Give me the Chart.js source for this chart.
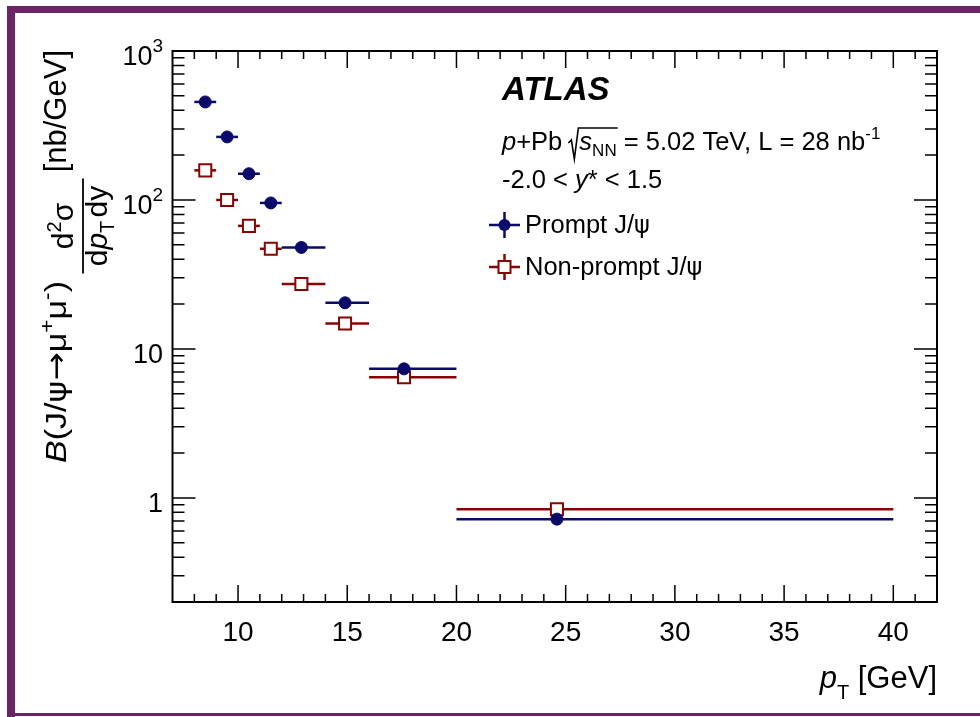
<!DOCTYPE html>
<html>
<head>
<meta charset="utf-8">
<script src="https://cdn.jsdelivr.net/npm/chart.js@4.4.0/dist/chart.umd.min.js"></script>
<style>
  html, body { margin: 0; padding: 0; background: #fff; }
  #wrap { position: relative; width: 980px; height: 717px; }
</style>
</head>
<body>
<div id="wrap"><canvas id="chart"></canvas></div>
<script>
// pT bins [GeV] and measured cross sections [nb/GeV]
const binLow = [8, 9, 10, 11, 12, 14, 16, 20];
const binHigh = [9, 10, 11, 12, 14, 16, 20, 40];
const binCentre = [8.5, 9.5, 10.5, 11.5, 12.9, 14.9, 17.6, 24.6];
const promptValues = [455, 265, 150, 95.5, 48, 20.4, 7.35, 0.72];
const nonPromptValues = [158, 100, 67, 47, 27.3, 14.8, 6.45, 0.84];
const xTickLabels = [10, 15, 20, 25, 30, 35, 40];
// decade labels: base text + exponent (empty = none)
const yTickLabels = { 1: ['1', ''], 10: ['10', ''], 100: ['10', '2'], 1000: ['10', '3'] };

const FONT = '"Liberation Sans", Arial, Helvetica, sans-serif';
const GREEK = '"DejaVu Sans", ' + FONT;
const PROMPT_COLOR = '#0a0a6a';
const NONPROMPT_COLOR = '#860404';
const FRAME_COLOR = '#6c2466';

function toPoints(values) {
    return values.map((v, i) => ({ x: binCentre[i], y: v }));
}

// draw a run of text pieces, each with its own size/style/offset
function richText(ctx, x, y, parts) {
    for (const p of parts) {
        ctx.font = (p.style || '') + ' ' + p.size + 'px ' + (p.family || FONT);
        ctx.fillText(p.t, x, y + (p.dy || 0));
        x += ctx.measureText(p.t).width;
    }
    return x;
}

function richWidth(ctx, parts) {
    let w = 0;
    for (const p of parts) {
        ctx.font = (p.style || '') + ' ' + p.size + 'px ' + (p.family || FONT);
        w += ctx.measureText(p.t).width;
    }
    return w;
}

function isDecade(v) {
    const l = Math.log10(v);
    return Math.abs(l - Math.round(l)) < 1e-6;
}

function isWholeSignificand(v) {
    const s = v / Math.pow(10, Math.floor(Math.log10(v) + 1e-9));
    return Math.abs(s - Math.round(s)) < 1e-6;
}

const errorBars = {
    id: 'errorBars',
    beforeDatasetsDraw(chart) {
        const ctx = chart.ctx;
        const xs = chart.scales.x, ys = chart.scales.y;
        ctx.save();
        ctx.lineWidth = 2.5;
        chart.data.datasets.forEach((ds) => {
            ctx.strokeStyle = ds.borderColor;
            ds.data.forEach((pt, i) => {
                const y = ys.getPixelForValue(pt.y);
                ctx.beginPath();
                ctx.moveTo(xs.getPixelForValue(binLow[i]), y);
                ctx.lineTo(xs.getPixelForValue(binHigh[i]), y);
                ctx.stroke();
            });
        });
        ctx.restore();
    }
};

const decorations = {
    id: 'decorations',
    afterDraw(chart) {
        const ctx = chart.ctx;
        const a = chart.chartArea;
        const xs = chart.scales.x, ys = chart.scales.y;
        ctx.save();

        // frame + inward ticks on all four sides
        ctx.strokeStyle = '#000';
        ctx.lineWidth = 2;
        ctx.strokeRect(a.left, a.top, a.right - a.left, a.bottom - a.top);
        ctx.lineWidth = 1.5;
        ctx.beginPath();
        xs.ticks.forEach((t) => {
            const px = xs.getPixelForValue(t.value);
            if (px <= a.left + 1 || px >= a.right - 1) return;
            const len = t.value % 5 === 0 ? 17 : 8;
            ctx.moveTo(px, a.bottom); ctx.lineTo(px, a.bottom - len);
            ctx.moveTo(px, a.top); ctx.lineTo(px, a.top + len);
        });
        ys.ticks.forEach((t) => {
            if (!isWholeSignificand(t.value)) return;
            const py = ys.getPixelForValue(t.value);
            if (py <= a.top + 1 || py >= a.bottom - 1) return;
            const len = isDecade(t.value) ? 23 : 12;
            ctx.moveTo(a.left, py); ctx.lineTo(a.left + len, py);
            ctx.moveTo(a.right, py); ctx.lineTo(a.right - len, py);
        });
        ctx.stroke();

        ctx.fillStyle = '#000';
        ctx.textAlign = 'left';
        ctx.textBaseline = 'alphabetic';

        // y tick labels with real exponents
        ys.ticks.forEach((t) => {
            const lab = yTickLabels[Math.round(t.value * 1000) / 1000];
            if (!lab || !isDecade(t.value)) return;
            const parts = [{ t: lab[0], size: 27 }];
            if (lab[1]) parts.push({ t: lab[1], size: 19, dy: -13 });
            const py = ys.getPixelForValue(t.value);
            richText(ctx, a.left - 9.5 - richWidth(ctx, parts), py + 14, parts);
        });

        // ATLAS label and run info
        ctx.font = 'italic bold 33px ' + FONT;
        ctx.fillText('ATLAS', 502, 100);

        let x = richText(ctx, 502, 150, [
            { t: 'p', size: 25.5, style: 'italic' },
            { t: '+Pb ', size: 25.5 }
        ]);
        const rootStart = x - 1;
        x = richText(ctx, rootStart + 11, 150, [
            { t: 's', size: 25.5, style: 'italic' },
            { t: 'NN', size: 17, dy: 6 }
        ]);
        ctx.lineWidth = 1.6;
        ctx.beginPath();
        ctx.moveTo(rootStart, 143);
        ctx.lineTo(rootStart + 3, 140);
        ctx.lineTo(rootStart + 6, 159);
        ctx.lineTo(rootStart + 10, 128);
        ctx.lineTo(x + 1, 128);
        ctx.stroke();
        richText(ctx, x, 150, [
            { t: ' = 5.02 TeV, L = 28 nb', size: 25.5 },
            { t: '-1', size: 17, dy: -11 }
        ]);
        richText(ctx, 502, 188, [
            { t: '-2.0 < ', size: 25.5 },
            { t: 'y', size: 25.5, style: 'italic' },
            { t: '* < 1.5', size: 25.5 }
        ]);

        // legend
        const legend = [
            { label: 'Prompt J/', cy: 225, base: 233, ds: 0 },
            { label: 'Non-prompt J/', cy: 267, base: 275, ds: 1 }
        ];
        legend.forEach((e) => {
            const ds = chart.data.datasets[e.ds];
            ctx.strokeStyle = ds.borderColor;
            ctx.lineWidth = 2.5;
            ctx.beginPath();
            ctx.moveTo(489, e.cy); ctx.lineTo(520, e.cy);
            ctx.moveTo(504.5, e.cy - 13); ctx.lineTo(504.5, e.cy + 13);
            ctx.stroke();
            if (e.ds === 0) {
                ctx.fillStyle = ds.backgroundColor;
                ctx.beginPath();
                ctx.arc(504.5, e.cy, 6, 0, Math.PI * 2);
                ctx.fill();
            } else {
                ctx.fillStyle = '#fff';
                ctx.lineWidth = 2;
                ctx.fillRect(498.5, e.cy - 6, 12, 12);
                ctx.strokeRect(498.5, e.cy - 6, 12, 12);
            }
            ctx.fillStyle = '#000';
            richText(ctx, 525, e.base, [
                { t: e.label, size: 25.5 },
                { t: '\u03C8', size: 24, family: GREEK }
            ]);
        });

        // x axis title, right aligned to the frame
        const xTitle = [
            { t: 'p', size: 31, style: 'italic' },
            { t: 'T', size: 20, dy: 11 },
            { t: ' [GeV]', size: 31 }
        ];
        richText(ctx, a.right - richWidth(ctx, xTitle), 688, xTitle);

        // y axis title, rotated; u runs upward along the page
        ctx.save();
        ctx.rotate(-Math.PI / 2);
        const lead = [
            { t: 'B', size: 30, style: 'italic' },
            { t: '(J/', size: 30 },
            { t: '\u03C8', size: 29, family: GREEK },
            { t: '\u2192', size: 30, family: GREEK },
            { t: '\u03BC', size: 30 },
            { t: '+', size: 20, dy: -12 },
            { t: '\u03BC', size: 30 },
            { t: '-', size: 20, dy: -12 },
            { t: ')', size: 30 }
        ];
        // stretch the leading part to the span it covers in the figure
        ctx.save();
        ctx.translate(-463, 0);
        ctx.scale(182 / richWidth(ctx, lead), 1);
        richText(ctx, 0, 66, lead);
        ctx.restore();
        const num = [
            { t: 'd', size: 30 },
            { t: '2', size: 20, dy: -12 },
            { t: '\u03C3', size: 30 }
        ];
        const den = [
            { t: 'd', size: 30 },
            { t: 'p', size: 30, style: 'italic' },
            { t: 'T', size: 20, dy: 7 },
            { t: ' ', size: 12 },
            { t: 'dy', size: 30 }
        ];
        const fracW = 95;
        const fracMid = -226;
        richText(ctx, fracMid - richWidth(ctx, num) / 2, 73, num);
        richText(ctx, fracMid - richWidth(ctx, den) / 2, 107, den);
        ctx.strokeStyle = '#000';
        ctx.lineWidth = 1.8;
        ctx.beginPath();
        ctx.moveTo(fracMid - fracW / 2, 83);
        ctx.lineTo(fracMid + fracW / 2, 83);
        ctx.stroke();
        const unit = [{ t: '[nb/GeV]', size: 31 }];
        richText(ctx, -50 - richWidth(ctx, unit), 66, unit);
        ctx.restore();

        // purple page border
        ctx.fillStyle = FRAME_COLOR;
        ctx.fillRect(7, 6, 980 - 7, 7);
        ctx.fillRect(7, 6, 8, 717 - 6);
        ctx.fillRect(7, 713, 980 - 7, 3);
        ctx.restore();
    }
};

new Chart(document.getElementById('chart'), {
    type: 'scatter',
    data: {
        datasets: [
            {
                label: 'Prompt J/\u03C8',
                data: toPoints(promptValues),
                pointStyle: 'circle',
                pointRadius: 6,
                pointHoverRadius: 6,
                backgroundColor: PROMPT_COLOR,
                borderColor: PROMPT_COLOR,
                borderWidth: 1
            },
            {
                label: 'Non-prompt J/\u03C8',
                data: toPoints(nonPromptValues),
                pointStyle: 'rect',
                pointRadius: 8.5,
                pointHoverRadius: 8.5,
                backgroundColor: '#fff',
                borderColor: NONPROMPT_COLOR,
                borderWidth: 2
            }
        ]
    },
    options: {
        responsive: true,
        maintainAspectRatio: false,
        animation: false,
        events: [],
        layout: { padding: { left: 0, right: 43, top: 51, bottom: 0 } },
        plugins: {
            legend: { display: false },
            tooltip: { enabled: false }
        },
        scales: {
            x: {
                type: 'linear',
                min: 7,
                max: 42,
                grid: { display: false },
                border: { display: false },
                ticks: {
                    stepSize: 1,
                    autoSkip: false,
                    maxRotation: 0,
                    padding: 6,
                    color: '#000',
                    font: { family: FONT, size: 28 },
                    callback: (v) => xTickLabels.includes(v) ? String(v) : ''
                },
                afterFit: (s) => { s.height = 115; }
            },
            y: {
                type: 'logarithmic',
                min: 0.2,
                max: 1000,
                grid: { display: false },
                border: { display: false },
                ticks: {
                    autoSkip: false,
                    // labels are drawn by the decorations plugin with exponents
                    callback: () => ''
                },
                afterFit: (s) => { s.width = 172.5; }
            }
        }
    },
    plugins: [errorBars, decorations]
});
</script>
</body>
</html>
